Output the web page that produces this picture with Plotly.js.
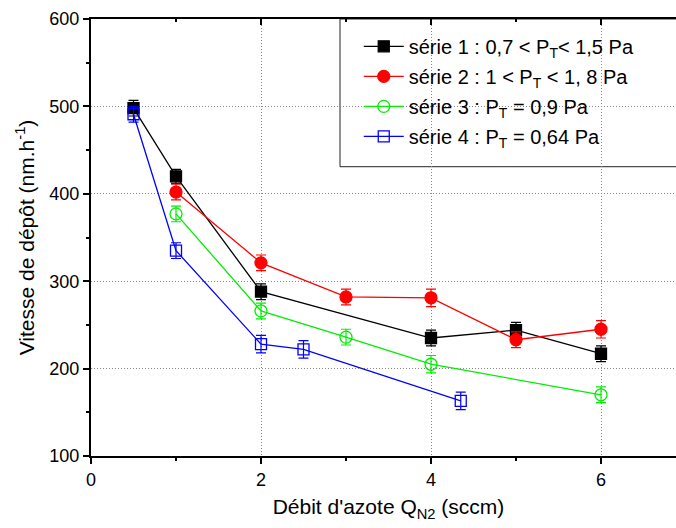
<!DOCTYPE html>
<html>
<head>
<meta charset="utf-8">
<script src="https://cdn.plot.ly/plotly-3.0.1.min.js"></script>
<style>
html,body{margin:0;padding:0;overflow:hidden;background:#fff;}
#chart{width:700px;height:528px;}
</style>
</head>
<body>
<div id="chart"></div>
<script>
// Data
const s1_x = [0.5, 1, 2, 4, 5, 6];
const s1_y = [498, 420, 288, 235, 244, 217];
const s1_err = [9, 8, 9, 9, 9, 9];

const s2_x = [1, 2, 3, 4, 5, 6];
const s2_y = [402, 321, 282, 281, 233, 245];
const s2_err = [9, 9, 9, 10, 9, 10];

const s3_x = [1, 2, 3, 4, 6];
const s3_y = [377, 266, 236, 205, 170];
const s3_err = [9, 9, 9, 10, 9];

const s4_x = [0.5, 1, 2, 2.5, 4.35];
const s4_y = [491, 335, 228, 222, 163];
const s4_err = [9, 9, 10, 10, 10];

const names = [
  "série 1 : 0,7 < P<sub>T</sub>< 1,5 Pa",
  "série 2 : 1 < P<sub>T</sub> < 1, 8 Pa",
  "série 3 : P<sub>T</sub> = 0,9 Pa",
  "série 4 : P<sub>T</sub> = 0,64 Pa"
];
const colors = ["#000000", "#ff0000", "#00ee00", "#0000ff"];
const symbols = ["square", "circle", "circle-open", "square-open"];
const markerSizes = [11, 12, 12, 11];

const xs = [s1_x, s2_x, s3_x, s4_x];
const ys = [s1_y, s2_y, s3_y, s4_y];
const errs = [s1_err, s2_err, s3_err, s4_err];

const traces = xs.map((x, i) => ({
  x: x, y: ys[i], name: names[i], type: 'scatter', mode: 'lines+markers',
  legendgroup: 'g' + i,
  line: {color: colors[i], width: 1.3},
  marker: {symbol: symbols[i], size: markerSizes[i], color: colors[i],
           line: {color: colors[i], width: 1.3}},
  error_y: {type: 'data', array: errs[i], visible: true, color: colors[i], thickness: 1.2, width: 5}
}));
// invisible trace to activate the top axis
traces.push({x: [], y: [], xaxis: 'x2', yaxis: 'y', showlegend: false, hoverinfo: 'skip'});

const FONT = 'Liberation Sans, Arial, sans-serif';

const layout = {
  width: 700, height: 528,
  margin: {l: 91, r: 14, t: 19, b: 72},
  paper_bgcolor: '#fff', plot_bgcolor: '#fff',
  font: {family: FONT, color: '#000'},
  showlegend: true,
  legend: {
    x: 0.45, y: 0.982, xanchor: 'left', yanchor: 'top',
    bgcolor: 'rgba(0,0,0,0)', borderwidth: 0,
    font: {size: 20, family: FONT, color: '#000'},
    tracegroupgap: 1, itemwidth: 40
  },
  shapes: [{
    type: 'rect', xref: 'paper', yref: 'paper',
    x0: 0.4185, x1: 1.2, y0: 0.662, y1: 1,
    line: {color: '#222', width: 1}, fillcolor: '#fff', layer: 'between'
  }],
  xaxis: {
    range: [0, 7], tickvals: [0, 2, 4, 6], ticks: 'outside', ticklen: 6, tickwidth: 2,
    tickcolor: '#000', showline: true, linecolor: '#000', linewidth: 2, mirror: false,
    zeroline: false, showgrid: true, gridcolor: '#888', griddash: '1px,2px', gridwidth: 1,
    tickfont: {size: 18},
    minor: {tickvals: [1, 3, 5], ticks: 'outside', ticklen: 3, tickwidth: 2, tickcolor: '#000', showgrid: false},
    title: {text: "Débit d'azote Q<sub>N2</sub> (sccm)", font: {size: 21}, standoff: 11}
  },
  xaxis2: {
    overlaying: 'x', side: 'top', range: [0, 7], tickvals: [0, 2, 4, 6],
    ticks: 'inside', ticklen: 6, tickwidth: 2, tickcolor: '#000',
    showticklabels: false, showline: true, linecolor: '#000', linewidth: 2,
    showgrid: false, zeroline: false,
    minor: {tickvals: [1, 3, 5], ticks: 'inside', ticklen: 3, tickwidth: 2, tickcolor: '#000', showgrid: false}
  },
  yaxis: {
    range: [100, 600], tickvals: [100, 200, 300, 400, 500, 600], ticks: 'outside', ticklen: 6, tickwidth: 2,
    tickcolor: '#000', showline: true, linecolor: '#000', linewidth: 2, mirror: false,
    zeroline: false, showgrid: true, gridcolor: '#888', griddash: '1px,2px', gridwidth: 1,
    tickfont: {size: 18},
    minor: {tickvals: [150, 250, 350, 450, 550], ticks: 'outside', ticklen: 3, tickwidth: 2, tickcolor: '#000', showgrid: false},
    title: {text: "Vitesse de dépôt (nm.h<sup>-1</sup>)", font: {size: 21}, standoff: 9}
  }
};

Plotly.newPlot('chart', traces, layout, {displayModeBar: false, staticPlot: true});
</script>
</body>
</html>
